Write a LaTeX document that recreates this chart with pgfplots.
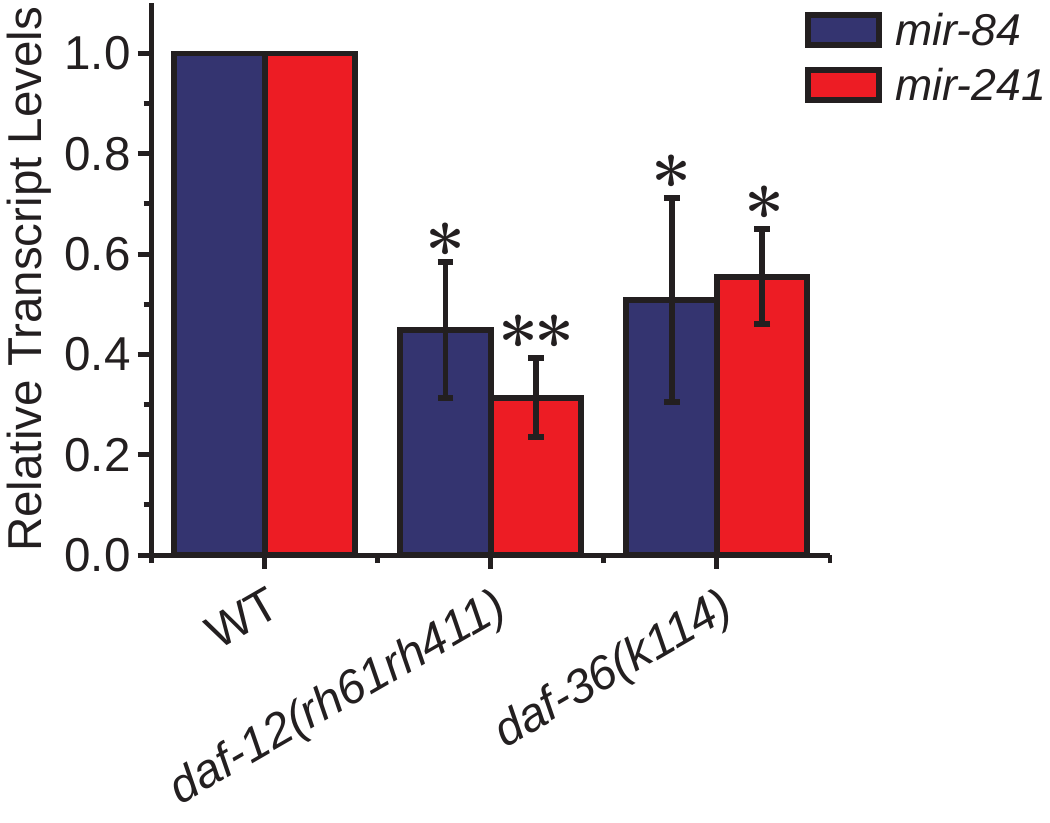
\documentclass[border=0pt]{standalone}
\usepackage{fontspec}
\setmainfont{Liberation Sans}
\newfontfamily\astfont{Latin Modern Roman}
\usepackage{pgfplots}
\pgfplotsset{compat=1.18}
\definecolor{barblue}{RGB}{52,52,112}
\definecolor{barred}{RGB}{237,28,36}
\definecolor{edge}{RGB}{35,31,32}
\begin{document}
\begin{tikzpicture}
\begin{axis}[
 width=342.5pt, height=278.5pt, scale only axis,
 xmin=0.5, xmax=3.5, ymin=0, ymax=1.1,
 axis x line*=bottom, axis y line*=left,
 axis line style={edge, line width=2.5pt, -},
 xtick={1,2,3}, minor xtick={0.5,1.5,2.5,3.5},
 xticklabels={WT, \textit{daf-12(rh61rh411)}, \textit{daf-36(k114)}},
 ytick={0,0.2,0.4,0.6,0.8,1.0}, minor ytick={0.1,0.3,0.5,0.7,0.9},
 yticklabel style={/pgf/number format/.cd, fixed, fixed zerofill, precision=1},
 /pgf/number format/assume math mode=true,
 tick style={edge, line width=2.5pt},
 major tick length=7pt, minor tick length=4pt,
 tick align=outside,
 ticklabel style={font=\fontsize{24}{28}\selectfont, text=edge},
 x tick label style={rotate=30, anchor=north east, yshift=-4pt},
 ylabel={Relative Transcript Levels},
 ylabel style={font=\fontsize{24}{28}\selectfont, text=edge},
 clip=false,
 legend style={at={(0.962,0.99)}, anchor=north west, draw=none, fill=none,
   font=\fontsize{22.5}{27}\selectfont, row sep=6pt, inner sep=0pt, text=edge},
 legend cell align=left,
]
\addlegendimage{legend image code/.code={\draw[fill=barblue,draw=edge,line width=3pt] (0pt,-7pt) rectangle (36pt,8pt);}}
\addlegendentry{\hspace{5pt}\textit{mir-84}}
\addlegendimage{legend image code/.code={\draw[fill=barred,draw=edge,line width=3pt] (0pt,-7pt) rectangle (36pt,8pt);}}
\addlegendentry{\hspace{5pt}\textit{mir-241}}

% bars
\addplot[ybar, bar width=0.4, bar shift=-0.2, fill=barblue, draw=edge, line width=3pt, forget plot]
  coordinates {(1,1.0) (2,0.449) (3,0.508)};
\addplot[ybar, bar width=0.4, bar shift=0.2, fill=barred, draw=edge, line width=3pt, forget plot]
  coordinates {(1,1.0) (2,0.314) (3,0.555)};

% error bars (mir-84 at x-0.2, mir-241 at x+0.2)
\addplot[draw=none, mark=none, forget plot,
  error bars/.cd, y dir=both, y explicit,
  error bar style={edge, line width=3pt},
  error mark options={edge, rotate=90, mark size=4pt, line width=3pt}]
  coordinates {(1.8,0.449) +- (0,0.135) (2.8,0.508) +- (0,0.203)
               (2.2,0.314) +- (0,0.078) (3.2,0.555) +- (0,0.095)};

\tikzset{ast/.style={font=\astfont\bfseries\fontsize{36}{36}\selectfont, text=edge, inner sep=0pt, yshift=-6pt}}
\node[ast] at (axis cs:1.8,0.632) {*};
\node[ast] at (axis cs:2.125,0.449) {*};
\node[ast] at (axis cs:2.28,0.449) {*};
\node[ast] at (axis cs:2.8,0.767) {*};
\node[ast] at (axis cs:3.21,0.706) {*};
\end{axis}
\end{tikzpicture}
\end{document}
